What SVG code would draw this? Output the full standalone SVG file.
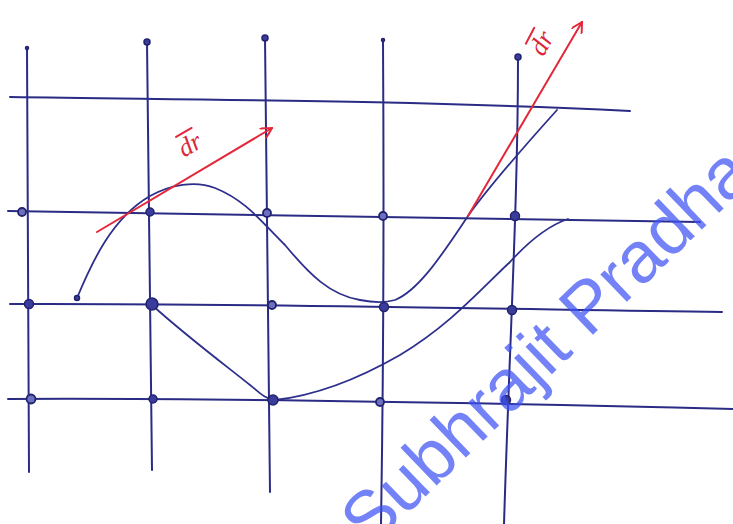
<svg xmlns="http://www.w3.org/2000/svg" width="733" height="524" viewBox="0 0 733 524">
<defs>
<style>
.grid{fill:none;stroke:#2a2b85;stroke-width:2;stroke-linecap:round}
.curve{fill:none;stroke:#2e2f8c;stroke-width:1.8;stroke-linecap:round}
.vec{fill:none;stroke:#e3283a;stroke-width:2;stroke-linecap:round}
.node{fill:#3a3c9c;stroke:#22236e;stroke-width:1.5}
.hollow{fill:#6d6fc0;stroke:#22236e;stroke-width:1.8}
.lbl{font-family:"Liberation Serif",serif;font-style:italic;font-size:26px;fill:#d9283a}
.wm{font-family:"Liberation Sans",Arial,sans-serif;font-size:72px;fill:#3d52f2;fill-opacity:0.72}
</style>
<marker id="ah" viewBox="0 0 12 12" refX="11" refY="6" markerWidth="12" markerHeight="12" markerUnits="userSpaceOnUse" orient="auto">
<path d="M0,0 L11,6 L0,12" fill="none" stroke="#e3283a" stroke-width="2"/>
</marker>
</defs>
<rect width="733" height="524" fill="#ffffff"/>
<g id="grid">
<path class="grid" d="M27,48 C27,200 29,350 29,472"/>
<path class="grid" d="M147,42 C148,200 151,350 152,470"/>
<path class="grid" d="M265,38 C266,200 268,350 270,492"/>
<path class="grid" d="M383,40 C384,200 383,400 381,524"/>
<path class="grid" d="M518,57 C518,200 510,330 504,524"/>
<path class="grid" d="M10,97 C200,100 400,100 630,111"/>
<path class="grid" d="M8,211 C200,212 450,216 700,222"/>
<path class="grid" d="M10,304 C200,303 450,308 722,312"/>
<path class="grid" d="M8,399 C200,398 450,402 733,409"/>
</g>
<g id="connectors">
<path id="curve1" class="curve" d="M77,298 C92,262 112,218 150,196 C170,185 195,180 215,188 C245,200 260,220 285,245 C310,275 330,295 360,300 C375,303 385,303 395,300 C420,290 445,250 468,216 C490,185 530,140 557,110"/>
<path id="curve2" class="curve" d="M152,305 C185,335 225,365 250,385 C260,393 265,399 275,400 C320,395 360,378 400,355 C450,325 480,290 510,262 C530,240 550,225 568,219"/>
<path id="dr1" class="vec" d="M97,232 L272,128" marker-end="url(#ah)"/>
<path id="dr2" class="vec" d="M468,216 L582,22" marker-end="url(#ah)"/>
</g>
<g id="label-dr1" transform="translate(194,152) rotate(-30)">
<text class="lbl" x="0" y="0" text-anchor="middle">dr</text>
<path class="vec" d="M-8,-22 L10,-22" stroke-width="1.5"/>
</g>
<g id="label-dr2" transform="translate(549,47) rotate(-62)">
<text class="lbl" x="0" y="0" text-anchor="middle">dr</text>
<path class="vec" d="M-8,-22 L10,-22" stroke-width="1.5"/>
</g>
<g id="endpoints">
<circle class="node" cx="27" cy="48" r="1.5"/>
<circle class="node" cx="147" cy="42" r="3"/>
<circle class="node" cx="265" cy="38" r="3"/>
<circle class="node" cx="383" cy="40" r="1.5"/>
<circle class="node" cx="518" cy="57" r="3"/>
<circle class="node" cx="77" cy="298" r="2.5"/>
</g>
<g id="n-2-1"><circle class="hollow" cx="22" cy="212" r="4"/></g>
<g id="n-2-2"><circle class="node" cx="150" cy="212" r="4"/></g>
<g id="n-2-3"><circle class="hollow" cx="267" cy="213" r="4"/></g>
<g id="n-2-4"><circle class="hollow" cx="383" cy="216" r="4"/></g>
<g id="n-2-5"><circle class="node" cx="515" cy="216" r="4.5"/></g>
<g id="n-3-1"><circle class="node" cx="29" cy="304" r="4.5"/></g>
<g id="n-3-2"><circle class="node" cx="152" cy="304" r="6"/></g>
<g id="n-3-3"><circle class="hollow" cx="272" cy="305" r="4"/></g>
<g id="n-3-4"><circle class="node" cx="384" cy="307" r="4.5"/></g>
<g id="n-3-5"><circle class="node" cx="512" cy="310" r="4.5"/></g>
<g id="n-4-1"><circle class="hollow" cx="31" cy="399" r="4.5"/></g>
<g id="n-4-2"><circle class="node" cx="153" cy="399" r="4"/></g>
<g id="n-4-3"><circle class="node" cx="273" cy="400" r="5"/></g>
<g id="n-4-4"><circle class="hollow" cx="380" cy="402" r="4"/></g>
<g id="n-4-5"><circle class="node" cx="506" cy="400" r="4.5"/></g>
<text class="wm" transform="translate(370,550) rotate(-44)">Subhrajit Pradhan</text>
</svg>
